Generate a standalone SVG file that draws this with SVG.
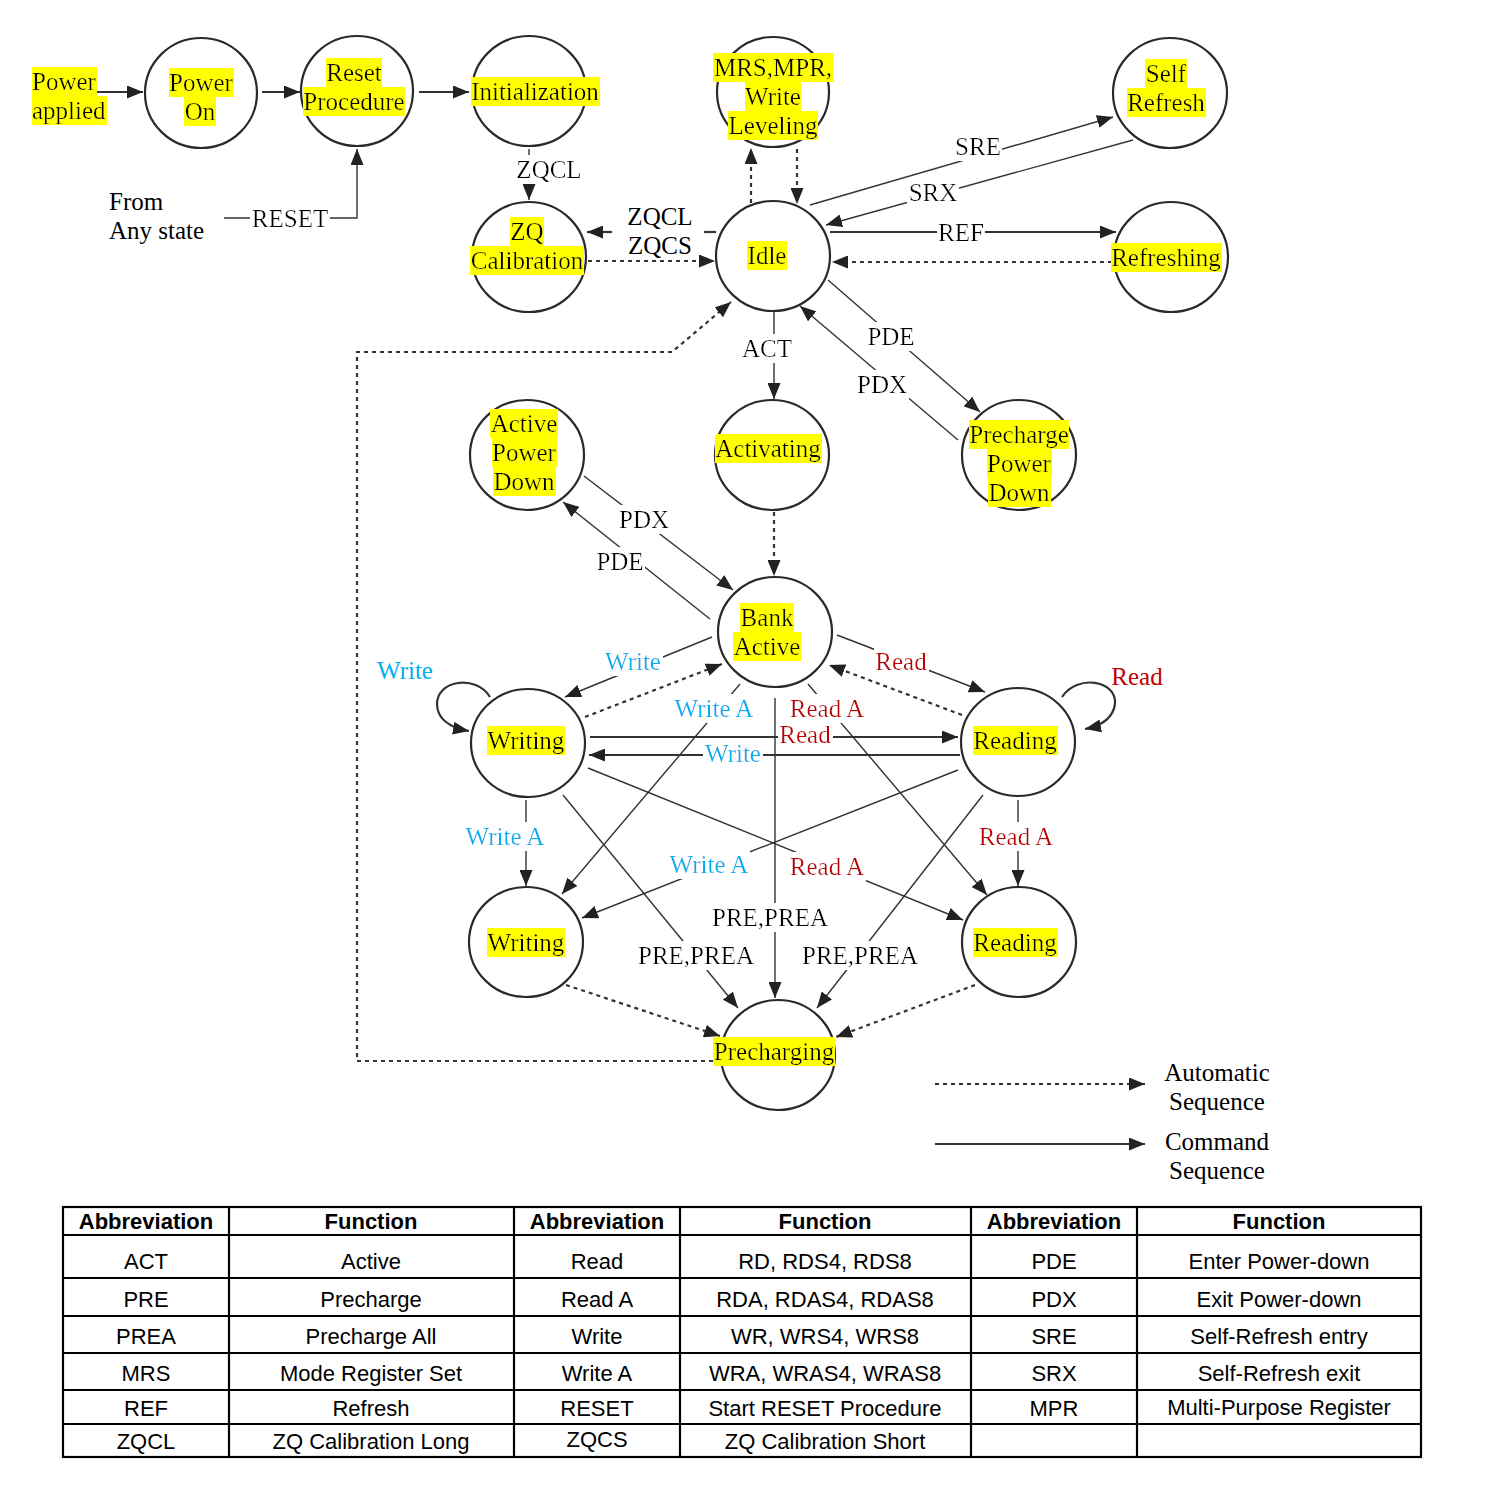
<svg xmlns="http://www.w3.org/2000/svg" width="1489" height="1509" viewBox="0 0 1489 1509">
<defs>
<marker id="ah" markerUnits="userSpaceOnUse" markerWidth="17" markerHeight="13" refX="16" refY="6.5" orient="auto"><path d="M0,0 L16,6.5 L0,13 z" fill="#222"/></marker>
<filter id="hl" x="0" y="-0.03" width="1" height="1.06"><feFlood flood-color="#ffff00" result="bg"/><feMerge><feMergeNode in="bg"/><feMergeNode in="SourceGraphic"/></feMerge></filter>
<filter id="wb" x="-0.02" y="-0.02" width="1.04" height="1.04"><feFlood flood-color="#ffffff" result="bg"/><feMerge><feMergeNode in="bg"/><feMergeNode in="SourceGraphic"/></feMerge></filter>
</defs>
<style>
.n ellipse{fill:none;stroke:#2a2a2a;stroke-width:2.2}
text{font-family:"Liberation Serif","Times New Roman",serif;font-size:25px;fill:#000;text-anchor:middle}
.h{filter:url(#hl)}
.w{filter:url(#wb)}
.s{text-anchor:start}
.b{fill:#00b0f0}
.r{fill:#c00000}
.ln{fill:none;stroke:#333;stroke-width:1.4}
.tk{fill:none;stroke:#333;stroke-width:2.2}
.dt{fill:none;stroke:#333;stroke-width:2.2;stroke-dasharray:4 4}
.ar{marker-end:url(#ah)}
.tb text{font-family:"Liberation Sans",Arial,sans-serif;font-size:22px}
.tb .hd{font-weight:bold}
.tb line,.tb rect{stroke:#000;stroke-width:2.2;fill:none}
</style>
<rect width="1489" height="1509" fill="#fff"/>

<g id="connectors">
  <!-- top row -->
  <line class="tk ar" x1="97" y1="92" x2="143" y2="92"/>
  <line class="tk ar" x1="262" y1="92" x2="300" y2="92"/>
  <line class="tk ar" x1="419" y1="92" x2="469" y2="92"/>
  <polyline class="ln ar" points="224,218 357,218 357,149"/>
  <line class="ln ar" x1="529" y1="149" x2="529" y2="200"/>
  <!-- Idle / ZQ -->
  <line class="tk" x1="716" y1="232" x2="704" y2="232"/>
  <line class="tk ar" x1="612" y1="232" x2="587" y2="232"/>
  <line class="dt ar" x1="588" y1="261" x2="715" y2="261"/>
  <!-- Idle / MRS -->
  <line class="dt ar" x1="751" y1="203" x2="751" y2="148"/>
  <line class="dt ar" x1="797" y1="149" x2="797" y2="204"/>
  <!-- Self refresh -->
  <line class="ln ar" x1="810" y1="205" x2="1113" y2="117"/>
  <line class="ln ar" x1="1133" y1="140" x2="826" y2="225"/>
  <!-- Refresh -->
  <line class="tk ar" x1="830" y1="232" x2="1116" y2="232"/>
  <line class="dt ar" x1="1112" y1="262" x2="832" y2="262"/>
  <!-- ACT / PD -->
  <line class="ln ar" x1="774" y1="312" x2="774" y2="399"/>
  <line class="ln ar" x1="828" y1="280" x2="980" y2="412"/>
  <line class="ln ar" x1="958" y1="440" x2="800" y2="306"/>
  <polyline class="dt ar" points="721,1061 357,1061 357,352 672,352 731,302"/>
  <line class="dt ar" x1="774" y1="512" x2="774" y2="576"/>
  <line class="ln ar" x1="584" y1="476" x2="733" y2="590"/>
  <line class="ln ar" x1="710" y1="619" x2="563" y2="502"/>
  <!-- Bank active / writing / reading -->
  <line class="ln ar" x1="712" y1="637" x2="565" y2="697"/>
  <line class="dt ar" x1="585" y1="717" x2="722" y2="664"/>
  <line class="ln ar" x1="837" y1="635" x2="985" y2="692"/>
  <line class="dt ar" x1="962" y1="715" x2="829" y2="665"/>
  <path class="tk ar" d="M490,697 C476,674 436,680 437,705 C438,721 452,728 469,731"/>
  <path class="tk ar" d="M1062,697 C1077,674 1117,680 1115,704 C1113,719 1100,726 1085,729"/>
  <line class="tk ar" x1="590" y1="737" x2="958" y2="737"/>
  <line class="tk ar" x1="960" y1="755" x2="589" y2="755"/>
  <line class="ln ar" x1="740" y1="684" x2="562" y2="894"/>
  <line class="ln ar" x1="808" y1="684" x2="987" y2="895"/>
  <line class="ln ar" x1="526" y1="800" x2="526" y2="886"/>
  <line class="ln ar" x1="1018" y1="800" x2="1018" y2="886"/>
  <line class="ln ar" x1="958" y1="770" x2="582" y2="918"/>
  <line class="ln ar" x1="588" y1="768" x2="963" y2="920"/>
  <line class="ln ar" x1="775" y1="698" x2="775" y2="998"/>
  <line class="ln ar" x1="563" y1="795" x2="738" y2="1008"/>
  <line class="ln ar" x1="983" y1="795" x2="817" y2="1008"/>
  <line class="dt ar" x1="566" y1="985" x2="720" y2="1036"/>
  <line class="dt ar" x1="975" y1="985" x2="836" y2="1037"/>
  <!-- legend -->
  <line class="dt ar" x1="935" y1="1084" x2="1145" y2="1084"/>
  <line class="tk ar" x1="935" y1="1144" x2="1145" y2="1144"/>

  <!-- labels -->
  <text class="w" x="549" y="178">ZQCL</text>
  <text class="w" x="290" y="227">RESET</text>
  <text class="s" x="109" y="210">From</text>
  <text class="s" x="109" y="239">Any state</text>
  <text x="660" y="225">ZQCL</text>
  <text x="660" y="254">ZQCS</text>
  <text class="w" x="978" y="155">SRE</text>
  <text class="w" x="933" y="201">SRX</text>
  <text class="w" x="961" y="241">REF</text>
  <text class="w" x="767" y="357">ACT</text>
  <text class="w" x="891" y="345">PDE</text>
  <text class="w" x="882" y="393">PDX</text>
  <text class="w" x="644" y="528">PDX</text>
  <text class="w" x="620" y="570">PDE</text>
  <text class="b" x="405" y="679">Write</text>
  <text class="w b" x="633" y="670">Write</text>
  <text class="w r" x="901" y="670">Read</text>
  <text class="r" x="1137" y="685">Read</text>
  <text class="w b" x="714" y="717">Write A</text>
  <text class="w r" x="827" y="717">Read A</text>
  <text class="w r" x="805" y="743">Read</text>
  <text class="w b" x="733" y="762">Write</text>
  <text class="w b" x="505" y="845">Write A</text>
  <text class="w b" x="709" y="873">Write A</text>
  <text class="w r" x="827" y="875">Read A</text>
  <text class="w r" x="1016" y="845">Read A</text>
  <text class="w" x="770" y="926">PRE,PREA</text>
  <text class="w" x="696" y="964">PRE,PREA</text>
  <text class="w" x="860" y="964">PRE,PREA</text>
  <text x="1217" y="1081">Automatic</text>
  <text x="1217" y="1110">Sequence</text>
  <text x="1217" y="1150">Command</text>
  <text x="1217" y="1179">Sequence</text>
</g>

<g id="nodes">
  <g id="power-applied"><text class="h s" x="32" y="90">Power</text><text class="h s" x="32" y="119">applied</text></g>
  <g id="power-on" class="n"><ellipse cx="201" cy="93" rx="56" ry="55"/><text class="h" x="201" y="91">Power</text><text class="h" x="200" y="120">On</text></g>
  <g id="reset-procedure" class="n"><ellipse cx="357" cy="91" rx="56" ry="55"/><text class="h" x="354" y="81">Reset</text><text class="h" x="354" y="110">Procedure</text></g>
  <g id="initialization" class="n"><ellipse cx="529" cy="91" rx="57" ry="55"/><text class="h" x="535" y="100">Initialization</text></g>
  <g id="mrs" class="n"><ellipse cx="773" cy="92" rx="56" ry="55"/><text class="h" x="773" y="76">MRS,MPR,</text><text class="h" x="773" y="105">Write</text><text class="h" x="773" y="134">Leveling</text></g>
  <g id="self-refresh" class="n"><ellipse cx="1170" cy="93" rx="57" ry="55"/><text class="h" x="1166" y="82">Self</text><text class="h" x="1166" y="111">Refresh</text></g>
  <g id="zq-calibration" class="n"><ellipse cx="529" cy="257" rx="57" ry="55"/><text class="h" x="527" y="240">ZQ</text><text class="h" x="527" y="269">Calibration</text></g>
  <g id="idle" class="n"><ellipse cx="773" cy="256" rx="57" ry="55"/><text class="h" x="767" y="264">Idle</text></g>
  <g id="refreshing" class="n"><ellipse cx="1171" cy="257" rx="57" ry="55"/><text class="h" x="1166" y="266">Refreshing</text></g>
  <g id="active-power-down" class="n"><ellipse cx="527" cy="455" rx="57" ry="55"/><text class="h" x="524" y="432">Active</text><text class="h" x="524" y="461">Power</text><text class="h" x="524" y="490">Down</text></g>
  <g id="activating" class="n"><ellipse cx="772" cy="455" rx="57" ry="55"/><text class="h" x="768" y="457">Activating</text></g>
  <g id="precharge-power-down" class="n"><ellipse cx="1019" cy="455" rx="57" ry="55"/><text class="h" x="1019" y="443">Precharge</text><text class="h" x="1019" y="472">Power</text><text class="h" x="1019" y="501">Down</text></g>
  <g id="bank-active" class="n"><ellipse cx="775" cy="632" rx="57" ry="55"/><text class="h" x="767" y="626">Bank</text><text class="h" x="767" y="655">Active</text></g>
  <g id="writing" class="n"><ellipse cx="528" cy="743" rx="57" ry="54"/><text class="h" x="526" y="749">Writing</text></g>
  <g id="reading" class="n"><ellipse cx="1018" cy="742" rx="57" ry="54"/><text class="h" x="1015" y="749">Reading</text></g>
  <g id="writing-a" class="n"><ellipse cx="526" cy="942" rx="57" ry="55"/><text class="h" x="526" y="951">Writing</text></g>
  <g id="reading-a" class="n"><ellipse cx="1019" cy="942" rx="57" ry="55"/><text class="h" x="1015" y="951">Reading</text></g>
  <g id="precharging" class="n"><ellipse cx="778" cy="1055" rx="57" ry="55"/><text class="h" x="774" y="1060">Precharging</text></g>
</g>

<g id="abbreviation-table" class="tb">
  <rect x="63" y="1207" width="1358" height="250"/>
  <line x1="63" y1="1235" x2="1421" y2="1235"/>
  <line x1="63" y1="1278" x2="1421" y2="1278"/>
  <line x1="63" y1="1316" x2="1421" y2="1316"/>
  <line x1="63" y1="1353" x2="1421" y2="1353"/>
  <line x1="63" y1="1390" x2="1421" y2="1390"/>
  <line x1="63" y1="1424" x2="1421" y2="1424"/>
  <line x1="229" y1="1207" x2="229" y2="1457"/>
  <line x1="514" y1="1207" x2="514" y2="1457"/>
  <line x1="680" y1="1207" x2="680" y2="1457"/>
  <line x1="971" y1="1207" x2="971" y2="1457"/>
  <line x1="1137" y1="1207" x2="1137" y2="1457"/>
  <text class="hd" x="146" y="1229">Abbreviation</text>
  <text class="hd" x="371" y="1229">Function</text>
  <text class="hd" x="597" y="1229">Abbreviation</text>
  <text class="hd" x="825" y="1229">Function</text>
  <text class="hd" x="1054" y="1229">Abbreviation</text>
  <text class="hd" x="1279" y="1229">Function</text>

  <text x="146" y="1269">ACT</text><text x="371" y="1269">Active</text><text x="597" y="1269">Read</text><text x="825" y="1269">RD, RDS4, RDS8</text><text x="1054" y="1269">PDE</text><text x="1279" y="1269">Enter Power-down</text>
  <text x="146" y="1307">PRE</text><text x="371" y="1307">Precharge</text><text x="597" y="1307">Read A</text><text x="825" y="1307">RDA, RDAS4, RDAS8</text><text x="1054" y="1307">PDX</text><text x="1279" y="1307">Exit Power-down</text>
  <text x="146" y="1344">PREA</text><text x="371" y="1344">Precharge All</text><text x="597" y="1344">Write</text><text x="825" y="1344">WR, WRS4, WRS8</text><text x="1054" y="1344">SRE</text><text x="1279" y="1344">Self-Refresh entry</text>
  <text x="146" y="1381">MRS</text><text x="371" y="1381">Mode Register Set</text><text x="597" y="1381">Write A</text><text x="825" y="1381">WRA, WRAS4, WRAS8</text><text x="1054" y="1381">SRX</text><text x="1279" y="1381">Self-Refresh exit</text>
  <text x="146" y="1416">REF</text><text x="371" y="1416">Refresh</text><text x="597" y="1416">RESET</text><text x="825" y="1416">Start RESET Procedure</text><text x="1054" y="1416">MPR</text><text x="1279" y="1415">Multi-Purpose Register</text>
  <text x="146" y="1449">ZQCL</text><text x="371" y="1449">ZQ Calibration Long</text><text x="597" y="1447">ZQCS</text><text x="825" y="1449">ZQ Calibration Short</text>
</g>
</svg>
